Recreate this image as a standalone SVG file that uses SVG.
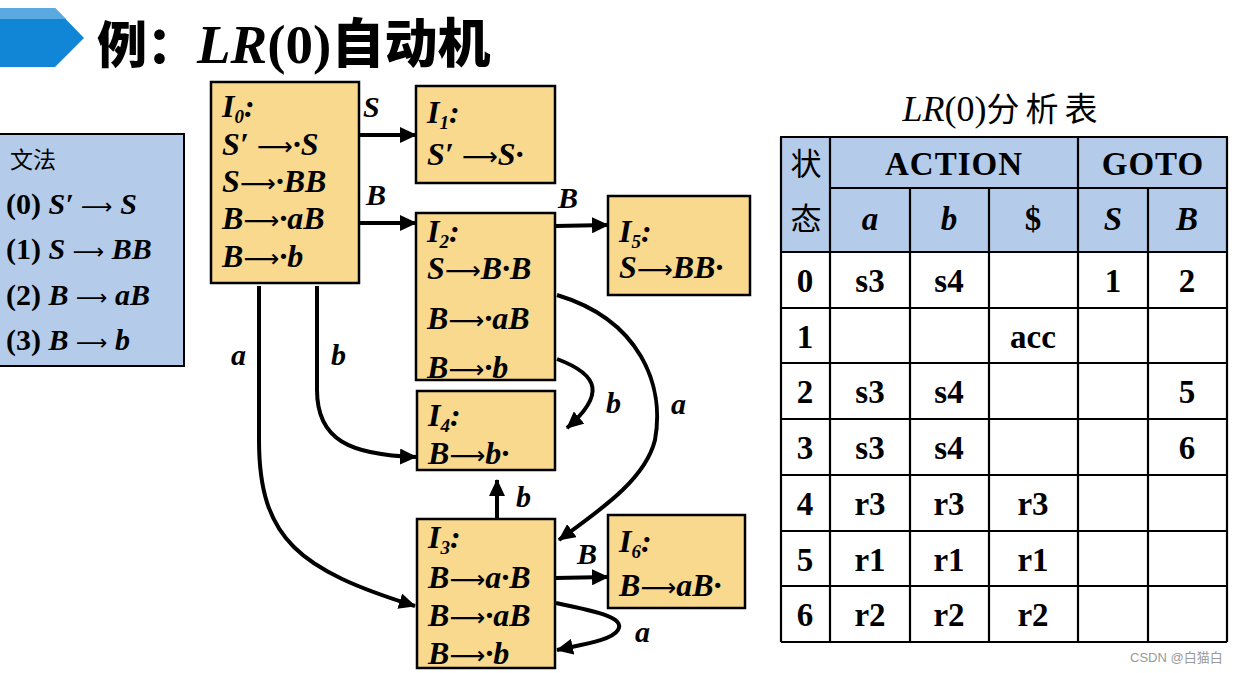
<svg xmlns="http://www.w3.org/2000/svg" width="1242" height="673" viewBox="0 0 1242 673">
<style>
.node{fill:#f8d98e;stroke:#000;stroke-width:2.5}
.nt{font-family:"Liberation Serif",serif;font-weight:bold;font-style:italic;font-size:32px;fill:#000}
.ar{font-family:"DejaVu Sans",sans-serif;font-style:normal;font-weight:normal;font-size:25px}
.sub{font-size:19px}
.edge{fill:none;stroke:#000;stroke-width:4}
.lbl{font-family:"Liberation Serif",serif;font-weight:bold;font-style:italic;font-size:30px;fill:#000}
.hdr{fill:#b4cce9;stroke:#000;stroke-width:2}
.ln{stroke:#000;stroke-width:2.2}
.tv{font-family:"Liberation Serif",serif;font-weight:bold;font-size:33px;fill:#000;text-anchor:middle}
.th{font-family:"Liberation Serif",serif;font-weight:bold;font-size:33px;fill:#000;text-anchor:middle;letter-spacing:1px}
.gr{font-family:"Liberation Serif",serif;font-weight:bold;font-size:30px;fill:#000}
.gra{font-family:"DejaVu Sans",sans-serif;font-weight:normal;font-size:22px}
</style>
<defs>
<marker id="ah" markerUnits="userSpaceOnUse" markerWidth="18" markerHeight="16" refX="16" refY="8" orient="auto">
<path d="M0,0 L17,8 L0,16 Z" fill="#000"/>
</marker>
</defs>
<rect width="1242" height="673" fill="#fff"/>

<!-- title -->
<g id="title">
<path d="M0,8 H55 L84,38 L55,67 H0 Z" fill="#1186d6"/>
<path d="M0,8 H55 L66,19 H0 Z" fill="#5aa9e0"/>
<text x="97" y="63" font-family="'Noto Sans CJK SC',sans-serif" font-weight="900" font-size="50px">例：<tspan font-family="'Liberation Serif',serif" font-style="italic" font-weight="bold" font-size="55px">LR</tspan><tspan font-family="'Liberation Serif',serif" font-weight="bold" font-size="55px">(0)</tspan><tspan font-size="53px">自动机</tspan></text>
</g>

<!-- grammar -->
<g id="grammar">
<rect x="-2" y="134" width="186" height="232" fill="#b4cce9" stroke="#000" stroke-width="2"/>
<text x="10" y="168" font-family="'Noto Sans CJK SC',sans-serif" font-size="23px">文法</text>
<text class="gr" x="6" y="214">(0) <tspan font-style="italic">S′</tspan> <tspan class="gra">⟶</tspan> <tspan font-style="italic">S</tspan></text>
<text class="gr" x="6" y="259">(1) <tspan font-style="italic">S</tspan> <tspan class="gra">⟶</tspan> <tspan font-style="italic">BB</tspan></text>
<text class="gr" x="6" y="305">(2) <tspan font-style="italic">B</tspan> <tspan class="gra">⟶</tspan> <tspan font-style="italic">aB</tspan></text>
<text class="gr" x="6" y="350">(3) <tspan font-style="italic">B</tspan> <tspan class="gra">⟶</tspan> <tspan font-style="italic">b</tspan></text>
</g>

<!-- nodes -->
<g id="I0">
<rect class="node" x="211" y="82" width="148" height="201"/>
<text class="nt" x="222" y="117">I<tspan class="sub" dy="6">0</tspan><tspan dy="-6">:</tspan></text>
<text class="nt" x="222" y="155">S′ <tspan class="ar">⟶</tspan>·S</text>
<text class="nt" x="222" y="192">S<tspan class="ar">⟶</tspan>·BB</text>
<text class="nt" x="222" y="229">B<tspan class="ar">⟶</tspan>·aB</text>
<text class="nt" x="222" y="267">B<tspan class="ar">⟶</tspan>·b</text>
</g>
<g id="I1">
<rect class="node" x="416" y="86" width="139" height="97"/>
<text class="nt" x="427" y="123">I<tspan class="sub" dy="6">1</tspan><tspan dy="-6">:</tspan></text>
<text class="nt" x="427" y="165">S′ <tspan class="ar">⟶</tspan>S·</text>
</g>
<g id="I2">
<rect class="node" x="416" y="213" width="139" height="167"/>
<text class="nt" x="427" y="242">I<tspan class="sub" dy="6">2</tspan><tspan dy="-6">:</tspan></text>
<text class="nt" x="427" y="279">S<tspan class="ar">⟶</tspan>B·B</text>
<text class="nt" x="427" y="329">B<tspan class="ar">⟶</tspan>·aB</text>
<text class="nt" x="427" y="378">B<tspan class="ar">⟶</tspan>·b</text>
</g>
<g id="I5">
<rect class="node" x="608" y="196" width="142" height="99"/>
<text class="nt" x="619" y="242">I<tspan class="sub" dy="6">5</tspan><tspan dy="-6">:</tspan></text>
<text class="nt" x="619" y="278">S<tspan class="ar">⟶</tspan>BB·</text>
</g>
<g id="I4">
<rect class="node" x="417" y="391" width="138" height="79"/>
<text class="nt" x="428" y="426">I<tspan class="sub" dy="6">4</tspan><tspan dy="-6">:</tspan></text>
<text class="nt" x="428" y="464">B<tspan class="ar">⟶</tspan>b·</text>
</g>
<g id="I3">
<rect class="node" x="417" y="519" width="138" height="149"/>
<text class="nt" x="428" y="548">I<tspan class="sub" dy="6">3</tspan><tspan dy="-6">:</tspan></text>
<text class="nt" x="428" y="588">B<tspan class="ar">⟶</tspan>a·B</text>
<text class="nt" x="428" y="626">B<tspan class="ar">⟶</tspan>·aB</text>
<text class="nt" x="428" y="664">B<tspan class="ar">⟶</tspan>·b</text>
</g>
<g id="I6">
<rect class="node" x="608" y="515" width="137" height="93"/>
<text class="nt" x="619" y="552">I<tspan class="sub" dy="6">6</tspan><tspan dy="-6">:</tspan></text>
<text class="nt" x="619" y="596">B<tspan class="ar">⟶</tspan>aB·</text>
</g>

<!-- connectors -->
<g id="edges">
<path class="edge" marker-end="url(#ah)" d="M359,135 H416"/>
<path class="edge" marker-end="url(#ah)" d="M359,223 H416"/>
<path class="edge" marker-end="url(#ah)" d="M555,226 L608,225"/>
<path class="edge" marker-end="url(#ah)" d="M557,359 C600,375 605,395 567,428"/>
<path class="edge" marker-end="url(#ah)" d="M557,295 C640,320 665,385 655,440 C645,480 600,510 559,540"/>
<path class="edge" marker-end="url(#ah)" d="M497,519 V480"/>
<path class="edge" marker-end="url(#ah)" d="M555,578 L608,577"/>
<path class="edge" marker-end="url(#ah)" d="M556,603 C600,612 625,618 618,630 C612,640 585,644 557,650"/>
<path class="edge" marker-end="url(#ah)" d="M259,286 V440 C259,540 300,570 415,606"/>
<path class="edge" marker-end="url(#ah)" d="M317,286 V390 C317,440 350,455 416,457"/>
<text class="lbl" x="363" y="117">S</text>
<text class="lbl" x="366" y="205">B</text>
<text class="lbl" x="558" y="208">B</text>
<text class="lbl" x="606" y="413">b</text>
<text class="lbl" x="671" y="414">a</text>
<text class="lbl" x="516" y="507">b</text>
<text class="lbl" x="577" y="564">B</text>
<text class="lbl" x="635" y="642" font-size="34px">a</text>
<text class="lbl" x="231" y="365">a</text>
<text class="lbl" x="331" y="365">b</text>
</g>

<!-- table -->
<g id="table">
<text x="1003" y="121" text-anchor="middle" font-family="'Liberation Serif',serif" font-size="36px"><tspan font-style="italic">LR</tspan>(0)<tspan font-family="'Noto Sans CJK SC',sans-serif" font-size="33px" letter-spacing="6">分析表</tspan></text>
<rect class="hdr" x="781" y="137" width="446" height="115"/>
<rect x="781" y="252" width="446" height="390" fill="#fff"/>
<g id="grid">
<line class="ln" x1="781" y1="137" x2="1227" y2="137"/>
<line class="ln" x1="830" y1="188" x2="1227" y2="188"/>
<line class="ln" x1="781" y1="252" x2="1227" y2="252"/>
<line class="ln" x1="781" y1="308" x2="1227" y2="308"/>
<line class="ln" x1="781" y1="363" x2="1227" y2="363"/>
<line class="ln" x1="781" y1="419" x2="1227" y2="419"/>
<line class="ln" x1="781" y1="475" x2="1227" y2="475"/>
<line class="ln" x1="781" y1="531" x2="1227" y2="531"/>
<line class="ln" x1="781" y1="586" x2="1227" y2="586"/>
<line class="ln" x1="781" y1="642" x2="1227" y2="642"/>
<line class="ln" x1="781" y1="137" x2="781" y2="642"/>
<line class="ln" x1="830" y1="137" x2="830" y2="642"/>
<line class="ln" x1="910" y1="188" x2="910" y2="642"/>
<line class="ln" x1="989" y1="188" x2="989" y2="642"/>
<line class="ln" x1="1078" y1="137" x2="1078" y2="642"/>
<line class="ln" x1="1148" y1="188" x2="1148" y2="642"/>
<line class="ln" x1="1227" y1="137" x2="1227" y2="642"/>
</g>
<text x="806" y="175" text-anchor="middle" font-family="'Noto Sans CJK SC',sans-serif" font-size="31px">状</text>
<text x="806" y="230" text-anchor="middle" font-family="'Noto Sans CJK SC',sans-serif" font-size="31px">态</text>
<text class="th" x="954" y="175">ACTION</text>
<text class="th" x="1153" y="175">GOTO</text>
<text class="tv" x="870" y="230" font-style="italic">a</text>
<text class="tv" x="949" y="230" font-style="italic">b</text>
<text class="tv" x="1033" y="230">$</text>
<text class="tv" x="1113" y="230" font-style="italic">S</text>
<text class="tv" x="1187" y="230" font-style="italic">B</text>
<text class="tv" x="805" y="292">0</text><text class="tv" x="870" y="292">s3</text><text class="tv" x="949" y="292">s4</text><text class="tv" x="1113" y="292">1</text><text class="tv" x="1187" y="292">2</text>
<text class="tv" x="805" y="348">1</text><text class="tv" x="1033" y="348">acc</text>
<text class="tv" x="805" y="403">2</text><text class="tv" x="870" y="403">s3</text><text class="tv" x="949" y="403">s4</text><text class="tv" x="1187" y="403">5</text>
<text class="tv" x="805" y="459">3</text><text class="tv" x="870" y="459">s3</text><text class="tv" x="949" y="459">s4</text><text class="tv" x="1187" y="459">6</text>
<text class="tv" x="805" y="515">4</text><text class="tv" x="870" y="515">r3</text><text class="tv" x="949" y="515">r3</text><text class="tv" x="1033" y="515">r3</text>
<text class="tv" x="805" y="571">5</text><text class="tv" x="870" y="571">r1</text><text class="tv" x="949" y="571">r1</text><text class="tv" x="1033" y="571">r1</text>
<text class="tv" x="805" y="626">6</text><text class="tv" x="870" y="626">r2</text><text class="tv" x="949" y="626">r2</text><text class="tv" x="1033" y="626">r2</text>
</g>

<text x="1130" y="662" font-family="'Liberation Sans',sans-serif" font-size="13px" fill="#999">CSDN @<tspan font-family="'Noto Sans CJK SC',sans-serif">白猫白</tspan></text>
</svg>
